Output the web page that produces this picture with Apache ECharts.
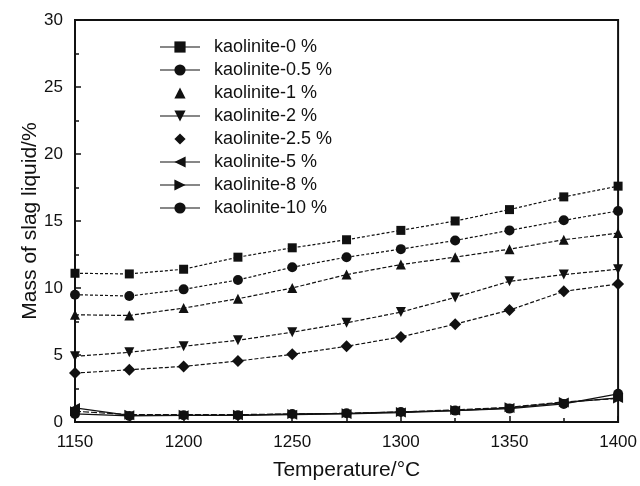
<!DOCTYPE html>
<html>
<head>
<meta charset="utf-8">
<script src="https://cdn.jsdelivr.net/npm/echarts@6/dist/echarts.min.js"></script>
<style>
    html, body { margin: 0; padding: 0; background: #fff; }
    #chart { width: 640px; height: 486px; }
</style>
</head>
<body>
<div id="chart"></div>
<script>
var temps = [1150, 1175, 1200, 1225, 1250, 1275, 1300, 1325, 1350, 1375, 1400];

var names = ['kaolinite-0 %', 'kaolinite-0.5 %', 'kaolinite-1 %', 'kaolinite-2 %',
    'kaolinite-2.5 %', 'kaolinite-5 %', 'kaolinite-8 %', 'kaolinite-10 %'];

var k0 = [11.1, 11.05, 11.4, 12.3, 13.0, 13.6, 14.3, 15.0, 15.85, 16.8, 17.6];
var k05 = [9.5, 9.4, 9.9, 10.6, 11.55, 12.3, 12.9, 13.55, 14.3, 15.05, 15.75];
var k1 = [8.0, 7.95, 8.5, 9.2, 10.0, 11.0, 11.75, 12.3, 12.9, 13.6, 14.1];
var k2 = [4.9, 5.2, 5.65, 6.1, 6.7, 7.4, 8.2, 9.3, 10.5, 11.0, 11.4];
var k25 = [3.65, 3.9, 4.15, 4.55, 5.05, 5.65, 6.35, 7.3, 8.35, 9.75, 10.3];
var k5 = [1.05, 0.5, 0.5, 0.5, 0.55, 0.6, 0.7, 0.85, 1.05, 1.45, 1.8];
var k8 = [0.8, 0.55, 0.55, 0.55, 0.6, 0.65, 0.75, 0.9, 1.1, 1.5, 1.75];
var k10 = [0.6, 0.45, 0.5, 0.5, 0.6, 0.65, 0.75, 0.85, 1.0, 1.35, 2.1];

var values = [k0, k05, k1, k2, k25, k5, k8, k10];
var symbols = ['rect', 'circle', 'triangle', 'path://M0,0 L10,0 L5,9 Z', 'diamond',
    'path://M0,5 L9,0 L9,10 Z', 'path://M0,0 L9,5 L0,10 Z', 'circle'];
var sizes = [9, 10, 10, 10, 12, 10, 10, 10];
var dashes = [[3, 2], [3, 2], [4, 2], [4, 2], [4, 2], 'solid', [6, 2], 'solid'];

var ink = '#111';

function pairs(arr) {
    return temps.map(function (t, i) { return [t, arr[i]]; });
}

var series = [];
for (var i = 0; i < names.length; i++) {
    series.push({
        name: names[i],
        type: 'line',
        data: pairs(values[i]),
        symbol: symbols[i],
        symbolSize: sizes[i],
        showSymbol: true,
        itemStyle: {color: ink},
        lineStyle: {color: ink, width: 1.2, type: dashes[i]},
        z: 10 - i
    });
}

var legendData = names.map(function (n, i) {
    // kaolinite-1 and kaolinite-2.5 show only the marker in the legend
    if (i === 2 || i === 4) {
        return {name: n, lineStyle: {opacity: 0}};
    }
    return {name: n, lineStyle: {type: 'solid', width: 1.2}};
});

var chart = echarts.init(document.getElementById('chart'));
chart.setOption({
    animation: false,
    backgroundColor: '#fff',
    textStyle: {fontFamily: 'Liberation Sans, Arial, sans-serif', color: ink},
    grid: {
        left: 75,
        right: 17,
        top: 20,
        bottom: 62,
        show: true,
        borderColor: ink,
        borderWidth: 2
    },
    legend: {
        orient: 'vertical',
        left: 154,
        top: 33,
        itemWidth: 40,
        itemHeight: 14,
        itemGap: 5,
        data: legendData,
        textStyle: {fontSize: 18, color: ink, padding: [0, 0, 0, 9]}
    },
    xAxis: {
        type: 'value',
        min: 1150,
        max: 1400,
        interval: 50,
        name: 'Temperature/°C',
        nameLocation: 'middle',
        nameGap: 38,
        nameTextStyle: {fontSize: 21, color: ink},
        axisLine: {lineStyle: {color: ink, width: 2}},
        axisTick: {inside: true, length: 6, lineStyle: {color: ink, width: 1.5}},
        minorTick: {show: true, splitNumber: 2, length: 4, lineStyle: {color: ink, width: 1.5}},
        axisLabel: {
            fontSize: 17, color: ink, margin: 12,
            formatter: function (v) { return String(v); }
        },
        splitLine: {show: false}
    },
    yAxis: {
        type: 'value',
        min: 0,
        max: 30,
        interval: 5,
        name: 'Mass of slag liquid/%',
        nameLocation: 'middle',
        nameGap: 34,
        nameMoveOverlap: false,
        nameTextStyle: {fontSize: 21, color: ink},
        axisLine: {show: true, lineStyle: {color: ink, width: 2}},
        axisTick: {show: true, inside: true, length: 6, lineStyle: {color: ink, width: 1.5}},
        minorTick: {show: true, splitNumber: 2, length: 4, lineStyle: {color: ink, width: 1.5}},
        axisLabel: {fontSize: 17, color: ink, margin: 12},
        splitLine: {show: false}
    },
    series: series
});
</script>
</body>
</html>
